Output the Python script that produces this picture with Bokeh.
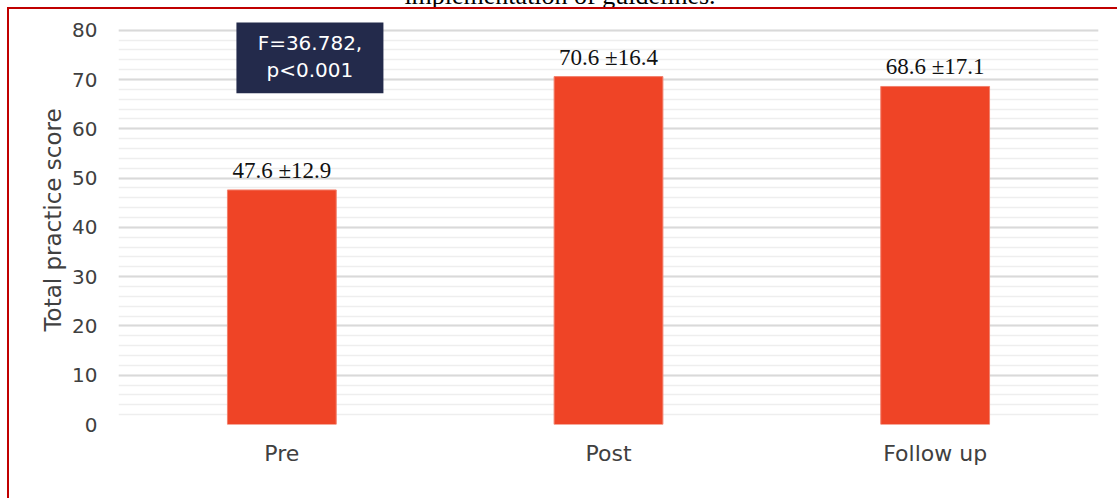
from bokeh.plotting import figure
from bokeh.models import (FactorRange, Range1d, FixedTicker, LabelSet, ColumnDataSource,
                          BoxAnnotation, Label, Div)
from bokeh.layouts import column
from bokeh.embed import file_html
from bokeh.resources import INLINE

# ---- data ----
categories = ["Pre", "Post", "Follow up"]
means = [47.6, 70.6, 68.6]
sds = [12.9, 16.4, 17.1]
y_ticks = [0, 10, 20, 30, 40, 50, 60, 70, 80]
y_minor = list(range(0, 81, 2))
stat_text = "F=36.782,\np<0.001"
title_text = "implementation of guidelines."
y_label = "Total practice score"

labels = [f"{m} \u00b1{s}" for m, s in zip(means, sds)]
src = ColumnDataSource(dict(cat=categories, mean=means, label=labels))

SANS = "DejaVu Sans"
SERIF = "Liberation Serif"

p = figure(x_range=FactorRange(factors=categories, range_padding=0),
           y_range=Range1d(0, 83),
           width=1110, height=491,
           output_backend="svg", toolbar_location=None,
           min_border_left=109, min_border_right=21,
           min_border_top=6, min_border_bottom=76)

p.vbar(x="cat", top="mean", width=0.333, source=src,
       fill_color="#EF4426", line_color="#F2806D", line_width=1)

p.outline_line_color = None
p.background_fill_color = "white"
p.border_fill_color = "white"
p.xgrid.grid_line_color = None

ticker = FixedTicker(ticks=y_ticks, minor_ticks=y_minor)
p.yaxis.ticker = ticker
p.ygrid.ticker = ticker
p.ygrid.grid_line_color = "#d9d9d9"
p.ygrid.grid_line_width = 2
p.ygrid.minor_grid_line_color = "#eeeeee"
p.ygrid.minor_grid_line_width = 1.5

for ax in (p.xaxis[0], p.yaxis[0]):
    ax.axis_line_color = None
    ax.major_tick_line_color = None
    ax.minor_tick_line_color = None
    ax.major_tick_out = 0
    ax.major_tick_in = 0
    ax.minor_tick_out = 0
    ax.minor_tick_in = 0
    ax.major_label_text_font = SANS
    ax.major_label_text_color = "#404040"

p.yaxis.major_label_text_font_size = "20px"
p.yaxis.major_label_standoff = 21
p.yaxis.axis_label = y_label
p.yaxis.axis_label_text_font = SANS
p.yaxis.axis_label_text_font_size = "23px"
p.yaxis.axis_label_text_font_style = "normal"
p.yaxis.axis_label_text_color = "#404040"
p.yaxis.axis_label_standoff = 3

p.xaxis.major_label_text_font_size = "22px"
p.xaxis.major_label_standoff = 16

p.add_layout(LabelSet(x="cat", y="mean", text="label", source=src,
                      y_offset=12, text_align="center", text_baseline="alphabetic",
                      text_font=SERIF, text_font_size="23px", text_color="#111111"))

p.add_layout(BoxAnnotation(left=0.361, right=0.811, bottom=67.2, top=81.6,
                           fill_color="#232A4B", fill_alpha=1.0, line_color=None))
p.add_layout(Label(x=0.586, y=74.6, text=stat_text, text_align="center",
                   text_baseline="middle", text_color="white", text_font=SANS,
                   text_font_size="20px", text_line_height=1.12))

p.styles = {"border-top": "2px solid #C00000", "border-left": "2px solid #C00000"}
p.margin = (0, 0, 0, 7)

title = Div(text=f'<div style="position:relative; top:-19px; line-height:30px; '
                 f'font-family:\'{SERIF}\'; font-size:26px; color:black; '
                 f'text-align:center; width:1120px;">{title_text}</div>',
            width=1120, height=7, margin=(0, 0, 0, 0),
            styles={"overflow": "hidden"})

layout = column(title, p)

open("out.html", "w").write(file_html(layout, INLINE))
